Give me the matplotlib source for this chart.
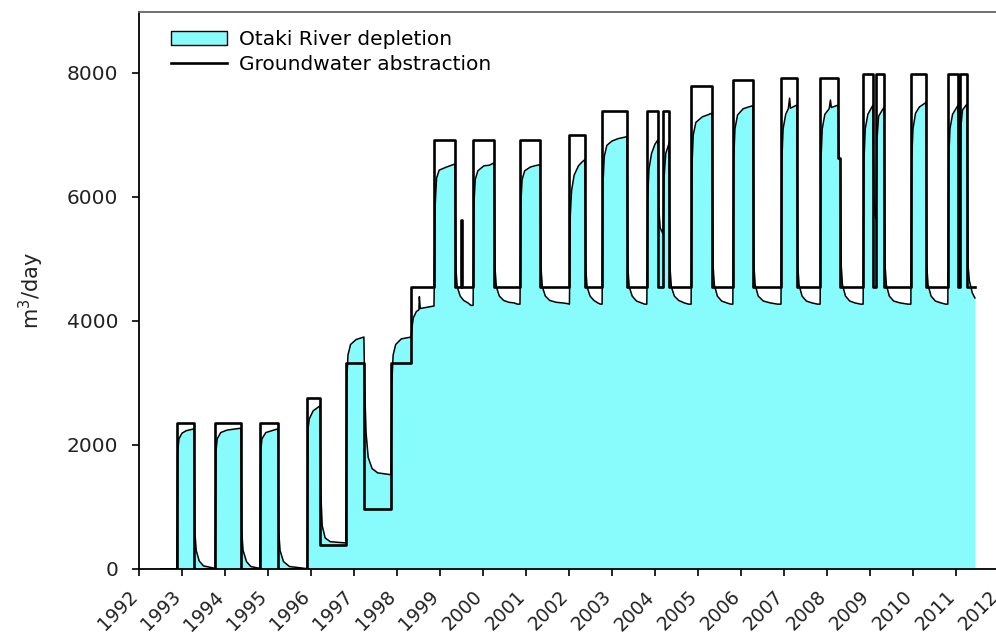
import matplotlib
matplotlib.use("Agg")
import matplotlib.pyplot as plt
import matplotlib.transforms as mtransforms
from matplotlib.patches import Patch
from matplotlib.lines import Line2D

plt.rcParams['font.family'] = ['DejaVu Sans']

# Groundwater abstraction: step changes (year, level after the change), m3/day
abs_years = [1992.51, 1992.88, 1993.28, 1993.77, 1994.37, 1994.81, 1995.23, 1995.91,
             1996.21, 1996.81, 1997.23, 1997.86, 1998.33, 1998.87, 1999.35, 1999.48,
             1999.50, 1999.77, 2000.26, 2000.86, 2001.33, 2002.01, 2002.37, 2002.77,
             2003.35, 2003.81, 2004.07, 2004.19, 2004.33, 2004.84, 2005.33, 2005.81,
             2006.28, 2006.93, 2007.30, 2007.84, 2008.26, 2008.31, 2008.84, 2009.07,
             2009.14, 2009.33, 2009.95, 2010.30, 2010.81, 2011.05, 2011.09, 2011.26,
             2011.44]
abs_levels = [0, 2350, 0, 2350, 0, 2350, 0, 2750,
              380, 3320, 970, 3320, 4550, 6920, 4550, 5630,
              4550, 6920, 4550, 6920, 4550, 7000, 4550, 7380,
              4550, 7380, 4550, 7380, 4550, 7790, 4550, 7880,
              4550, 7920, 4550, 7920, 6630, 4550, 7980, 4550,
              7980, 4550, 7980, 4550, 7980, 4550, 7980, 4550,
              4550]

# Otaki River depletion (year, m3/day)
depletion_points = [
    (1992.51, 0), (1992.88, 0),
    (1992.90, 1900), (1992.93, 2100), (1993.00, 2190), (1993.10, 2230), (1993.28, 2260),
    (1993.30, 600), (1993.33, 300), (1993.40, 130), (1993.50, 50), (1993.77, 10),
    (1993.79, 1900), (1993.82, 2100), (1993.90, 2200), (1994.05, 2240), (1994.37, 2270),
    (1994.39, 600), (1994.42, 300), (1994.50, 120), (1994.60, 40), (1994.81, 10),
    (1994.83, 1900), (1994.86, 2100), (1994.95, 2200), (1995.23, 2260),
    (1995.25, 600), (1995.28, 300), (1995.36, 120), (1995.50, 40), (1995.91, 5),
    (1995.93, 2250), (1995.96, 2420), (1996.05, 2550), (1996.21, 2630),
    (1996.23, 1200), (1996.26, 700), (1996.33, 500), (1996.45, 440), (1996.81, 420),
    (1996.83, 3000), (1996.86, 3450), (1996.92, 3620), (1997.05, 3700), (1997.23, 3740),
    (1997.25, 2900), (1997.28, 2200), (1997.33, 1800), (1997.42, 1620), (1997.55, 1550), (1997.86, 1520),
    (1997.88, 3000), (1997.91, 3450), (1997.97, 3620), (1998.10, 3710), (1998.33, 3740),
    (1998.35, 3900), (1998.38, 4050), (1998.45, 4150), (1998.51, 4180), (1998.52, 4390),
    (1998.54, 4200), (1998.86, 4240),
    (1998.89, 5900), (1998.92, 6300), (1998.98, 6430), (1999.15, 6480), (1999.35, 6530),
    (1999.37, 4850), (1999.40, 4550), (1999.47, 4400), (1999.55, 4330), (1999.65, 4290),
    (1999.72, 4250), (1999.77, 4250),
    (1999.79, 5900), (1999.82, 6280), (1999.88, 6420), (2000.02, 6500), (2000.15, 6510), (2000.26, 6550),
    (2000.28, 4850), (2000.31, 4550), (2000.38, 4400), (2000.48, 4330), (2000.60, 4300),
    (2000.72, 4290), (2000.80, 4270), (2000.86, 4270),
    (2000.88, 5900), (2000.91, 6280), (2000.97, 6420), (2001.10, 6480), (2001.20, 6500), (2001.33, 6520),
    (2001.35, 4850), (2001.38, 4550), (2001.45, 4400), (2001.55, 4330), (2001.70, 4300),
    (2001.85, 4290), (2001.95, 4280), (2002.01, 4270),
    (2002.03, 5700), (2002.06, 6100), (2002.12, 6350), (2002.22, 6500), (2002.30, 6560), (2002.37, 6600),
    (2002.39, 4850), (2002.42, 4550), (2002.49, 4400), (2002.58, 4330), (2002.67, 4290),
    (2002.73, 4270), (2002.77, 4270),
    (2002.79, 6200), (2002.82, 6650), (2002.88, 6830), (2003.00, 6900), (2003.15, 6940), (2003.35, 6970),
    (2003.37, 4850), (2003.40, 4550), (2003.47, 4400), (2003.57, 4320), (2003.68, 4290),
    (2003.76, 4270), (2003.81, 4270),
    (2003.83, 6000), (2003.86, 6450), (2003.92, 6700), (2004.00, 6850), (2004.07, 6920),
    (2004.09, 5800), (2004.12, 5500), (2004.19, 5400),
    (2004.21, 6300), (2004.25, 6700), (2004.33, 6870),
    (2004.35, 4850), (2004.38, 4550), (2004.45, 4400), (2004.55, 4330), (2004.68, 4290),
    (2004.78, 4270), (2004.84, 4270),
    (2004.86, 6500), (2004.89, 7000), (2004.95, 7200), (2005.10, 7290), (2005.22, 7320), (2005.33, 7350),
    (2005.35, 4900), (2005.38, 4580), (2005.45, 4400), (2005.55, 4320), (2005.67, 4290),
    (2005.76, 4270), (2005.81, 4270),
    (2005.83, 6600), (2005.86, 7100), (2005.92, 7320), (2006.05, 7420), (2006.18, 7450), (2006.28, 7470),
    (2006.30, 4900), (2006.33, 4580), (2006.40, 4400), (2006.52, 4320), (2006.68, 4290),
    (2006.85, 4270), (2006.93, 4270),
    (2006.95, 6600), (2006.98, 7100), (2007.04, 7330), (2007.10, 7420), (2007.13, 7590),
    (2007.15, 7430), (2007.30, 7480),
    (2007.32, 4900), (2007.35, 4580), (2007.42, 4400), (2007.52, 4320), (2007.65, 4290),
    (2007.78, 4270), (2007.84, 4270),
    (2007.86, 6600), (2007.89, 7100), (2007.95, 7330), (2008.05, 7420), (2008.08, 7560),
    (2008.10, 7440), (2008.26, 7480),
    (2008.28, 6650), (2008.31, 6550),
    (2008.33, 4900), (2008.36, 4580), (2008.43, 4400), (2008.53, 4320), (2008.65, 4290),
    (2008.78, 4270), (2008.84, 4270),
    (2008.86, 6600), (2008.89, 7100), (2008.95, 7330), (2009.07, 7480),
    (2009.09, 6000), (2009.12, 5700), (2009.14, 5650),
    (2009.16, 6900), (2009.20, 7300), (2009.33, 7450),
    (2009.35, 4900), (2009.38, 4580), (2009.45, 4400), (2009.55, 4320), (2009.70, 4290),
    (2009.88, 4270), (2009.95, 4270),
    (2009.97, 6600), (2010.00, 7100), (2010.06, 7350), (2010.15, 7450), (2010.30, 7520),
    (2010.32, 4900), (2010.35, 4580), (2010.42, 4400), (2010.52, 4320), (2010.65, 4290),
    (2010.76, 4270), (2010.81, 4270),
    (2010.83, 6600), (2010.86, 7100), (2010.92, 7330), (2011.05, 7480),
    (2011.07, 6300), (2011.09, 6100),
    (2011.11, 7100), (2011.15, 7400), (2011.26, 7500),
    (2011.28, 4900), (2011.31, 4650), (2011.38, 4450), (2011.44, 4370),
]

year_ticks = list(range(1992, 2013))
flow_ticks = [0, 2000, 4000, 6000, 8000]

dep_years = [p[0] for p in depletion_points]
dep_values = [p[1] for p in depletion_points]

cyan = '#88fcfc'
text_col = '#222222'

fig = plt.figure(figsize=(9.96, 6.4), dpi=100)
ax = fig.add_axes([139 / 996, 71 / 640, 860 / 996, 557 / 640])

# depletion area with its outline
ax.fill_between(dep_years, 0, dep_values, color=cyan, linewidth=0, zorder=1)
ax.plot(dep_years, dep_values, color='black', lw=1.1, zorder=2)

# abstraction step line
ax.step(abs_years, abs_levels, where='post', color='black', lw=1.9, zorder=3)

ax.set_xlim(1992, 2012)
ax.set_ylim(0, 8980)
ax.set_xticks(year_ticks)
ax.set_xticklabels([str(y) for y in year_ticks], rotation=45, ha='right', va='center',
                   rotation_mode='anchor', fontsize=13.5, color=text_col)
ax.set_yticks(flow_ticks)
ax.set_yticklabels([str(v) for v in flow_ticks], fontsize=14.5, color=text_col)
ax.tick_params(direction='out', length=5, width=1.2)
ax.tick_params(axis='y', pad=10)
ax.tick_params(axis='x', pad=13)

# nudge the rotated year labels a little to the left
shift = mtransforms.ScaledTranslation(-4 / 100, 0, fig.dpi_scale_trans)
for lab in ax.get_xticklabels():
    lab.set_transform(lab.get_transform() + shift)

ax.set_ylabel('m$^3$/day', fontsize=15, color=text_col, labelpad=15)

for s in ['left', 'bottom']:
    ax.spines[s].set_linewidth(1.3)
ax.spines['top'].set_color('#666666')
ax.spines['top'].set_linewidth(1.3)

handles = [Patch(facecolor=cyan, edgecolor='black', lw=1.0),
           Line2D([0], [0], color='black', lw=1.9)]
ax.legend(handles, ['Otaki River depletion', 'Groundwater abstraction'],
          loc='upper left', bbox_to_anchor=(32 / 860, 1 - 18 / 557),
          frameon=False, fontsize=14.5, borderpad=0, handlelength=2.8,
          handleheight=0.75, handletextpad=0.6, labelspacing=0.3,
          borderaxespad=0)

fig.savefig('out.png', dpi=100)
